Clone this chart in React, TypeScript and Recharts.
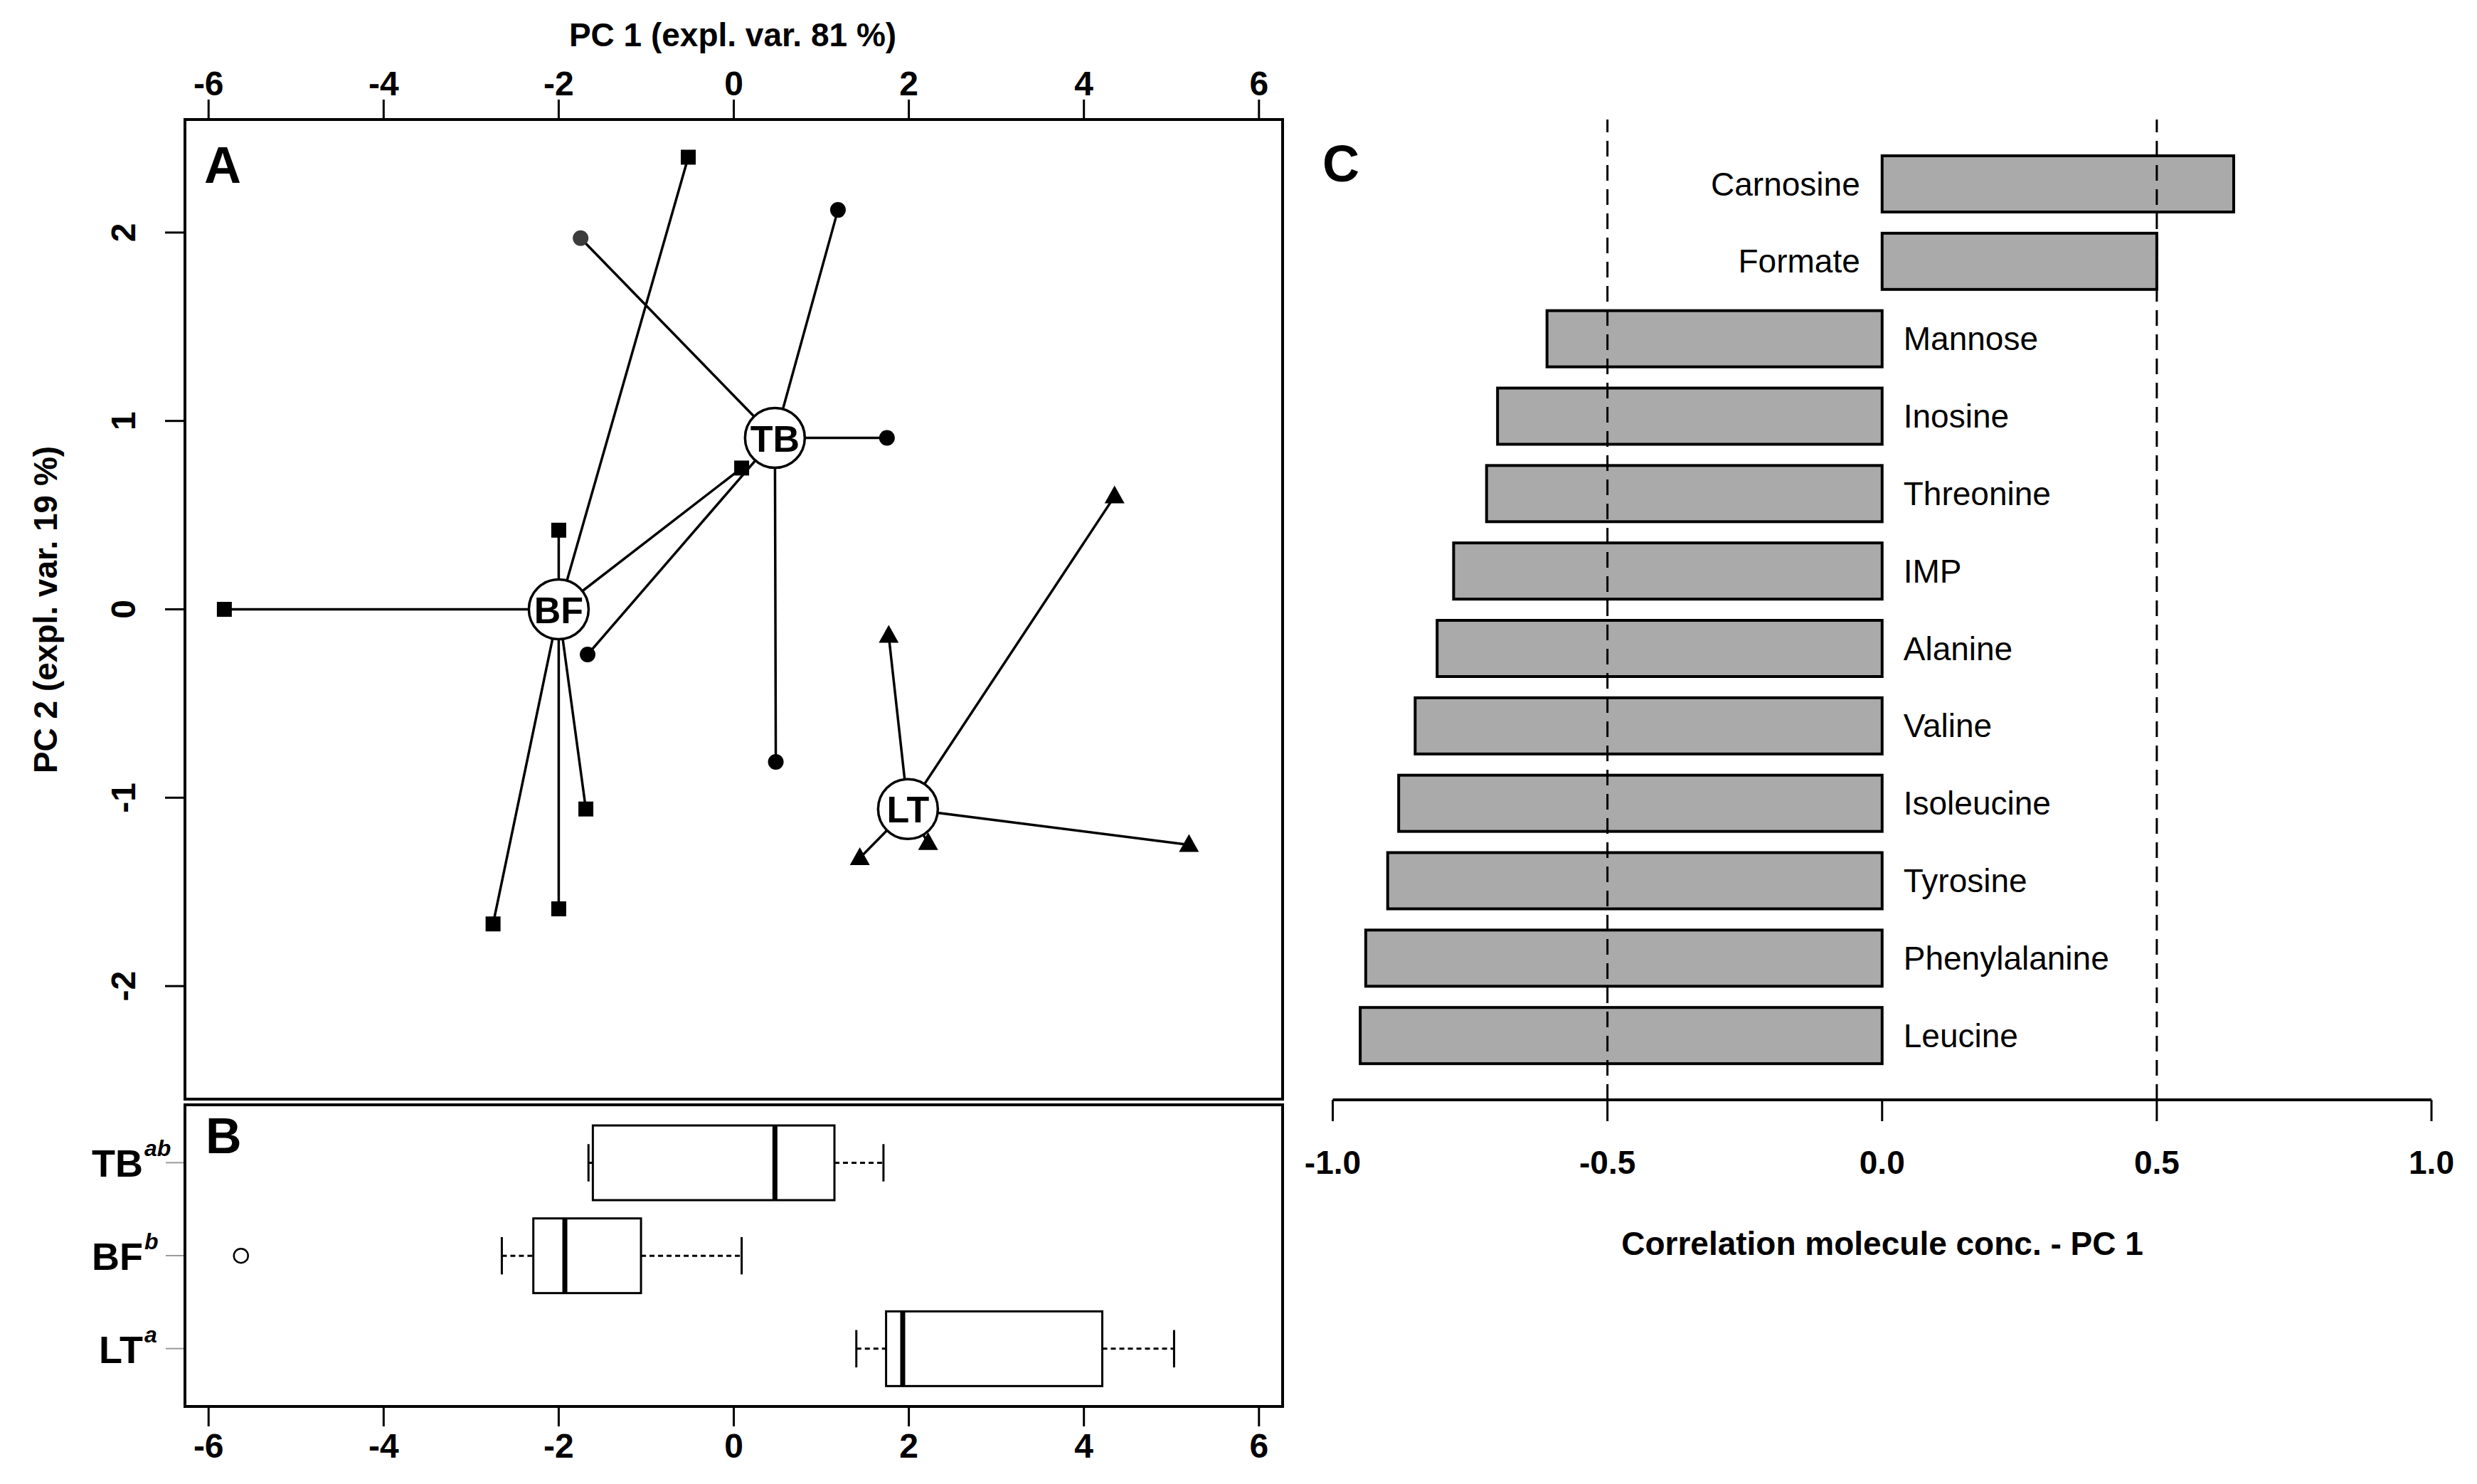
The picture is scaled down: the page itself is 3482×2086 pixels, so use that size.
import React from "react";
import {
  Bar,
  BarChart,
  ComposedChart,
  ReferenceLine,
  Scatter,
  ScatterChart,
  XAxis,
  YAxis,
} from "recharts";

// panel A: PCA scores, spider from group centre to every sample
const groupNames = ["TB", "BF", "LT"];
const centroidX = [0.47, -2.0, 1.99];
const centroidY = [0.91, 0.0, -1.06];

const tbX = [-1.75, 1.19, 1.75, 0.48, -1.67];
const tbY = [1.97, 2.12, 0.91, -0.81, -0.24];
const bfX = [-0.52, -2.0, -5.82, 0.09, -1.69, -2.0, -2.75];
const bfY = [2.4, 0.42, 0.0, 0.75, -1.06, -1.59, -1.67];
const ltX = [4.35, 1.77, 5.2, 2.22, 1.44];
const ltY = [0.6, -0.14, -1.25, -1.24, -1.32];

const pcTicksX = [-6, -4, -2, 0, 2, 4, 6];
const pcTicksY = [-2, -1, 0, 1, 2];

// panel B: boxplots of PC 1 scores
const boxGroups = ["TB", "BF", "LT"];
const boxLetters = ["ab", "b", "a"];
const boxMin = [-1.66, -2.65, 1.4];
const boxQ1 = [-1.61, -2.29, 1.74];
const boxMedian = [0.47, -1.93, 1.93];
const boxQ3 = [1.15, -1.06, 4.21];
const boxMax = [1.71, 0.09, 5.03];
const boxOutliers: number[][] = [[], [-5.63], []];

// panel C: correlation of each molecule with PC 1
const molecules = [
  "Carnosine",
  "Formate",
  "Mannose",
  "Inosine",
  "Threonine",
  "IMP",
  "Alanine",
  "Valine",
  "Isoleucine",
  "Tyrosine",
  "Phenylalanine",
  "Leucine",
];
const correlations = [0.64, 0.5, -0.61, -0.7, -0.72, -0.78, -0.81, -0.85, -0.88, -0.9, -0.94, -0.95];
const corrTicks = [-1, -0.5, 0, 0.5, 1];
const corrCutoffs = [-0.5, 0.5];

const FONT = "'Liberation Sans', Arial, Helvetica, sans-serif";

const toPoints = (xs: number[], ys: number[]) => xs.map((x, i) => ({ x, y: ys[i] }));
const groupPoints = [toPoints(tbX, tbY), toPoints(bfX, bfY), toPoints(ltX, ltY)];
const centroids = groupNames.map((name, i) => ({ name, x: centroidX[i], y: centroidY[i] }));
const spokes = groupPoints.map((pts, g) => pts.flatMap((p) => [centroids[g], p]));

const boxRows = boxGroups.map((name, i) => ({
  name,
  range: [Math.min(boxMin[i], ...boxOutliers[i]), boxMax[i]],
  min: boxMin[i],
  q1: boxQ1[i],
  median: boxMedian[i],
  q3: boxQ3[i],
  max: boxMax[i],
  outliers: boxOutliers[i],
}));

const corrRows = molecules.map((name, i) => ({ name, value: correlations[i] }));

const noShape = () => <g />;

const squareShape = (p: any) => (
  <rect x={p.cx - 10.5} y={p.cy - 10.5} width={21} height={21} fill="#000" />
);

const dotShape = (p: any) => {
  const first = p.payload && p.payload.x === tbX[0] && p.payload.y === tbY[0];
  return <circle cx={p.cx} cy={p.cy} r={11} fill={first ? "#3c3c3c" : "#000"} />;
};

const triangleShape = (p: any) => (
  <path
    d={`M${p.cx},${p.cy - 15} L${p.cx + 14},${p.cy + 10} L${p.cx - 14},${p.cy + 10} Z`}
    fill="#000"
  />
);

const centroidShape = (p: any) => (
  <g>
    <circle cx={p.cx} cy={p.cy} r={42} fill="#fff" stroke="#000" strokeWidth={3.5} />
    <text
      x={p.cx}
      y={p.cy + 19}
      textAnchor="middle"
      fontSize={52}
      fontWeight="bold"
      fontFamily={FONT}
      fill="#000"
    >
      {p.payload.name}
    </text>
  </g>
);

const markerShapes = [dotShape, squareShape, triangleShape];

const topTick = (p: any) => (
  <text x={p.x} y={134} textAnchor="middle" fontSize={48} fontWeight="bold" fontFamily={FONT} fill="#000">
    {p.payload.value}
  </text>
);

const bottomTick = (p: any) => (
  <text x={p.x} y={509} textAnchor="middle" fontSize={48} fontWeight="bold" fontFamily={FONT} fill="#000">
    {p.payload.value}
  </text>
);

const leftTick = (p: any) => (
  <text
    x={190}
    y={p.y}
    transform={`rotate(-90 190 ${p.y})`}
    textAnchor="middle"
    fontSize={48}
    fontWeight="bold"
    fontFamily={FONT}
    fill="#000"
  >
    {p.payload.value}
  </text>
);

const groupTick = (p: any) => {
  const idx = boxGroups.indexOf(p.payload.value);
  return (
    <g>
      <text x={201} y={p.y + 20} textAnchor="end" fontSize={54} fontWeight="bold" fontFamily={FONT} fill="#000">
        {p.payload.value}
      </text>
      <text
        x={203}
        y={p.y - 9}
        textAnchor="start"
        fontSize={32}
        fontWeight="bold"
        fontStyle="italic"
        fontFamily={FONT}
        fill="#000"
      >
        {boxLetters[idx]}
      </text>
    </g>
  );
};

const corrTick = (p: any) => (
  <text x={p.x} y={1650} textAnchor="middle" fontSize={46} fontWeight="bold" fontFamily={FONT} fill="#000">
    {Number(p.payload.value).toFixed(1)}
  </text>
);

function BoxShape(p: any) {
  const row = p.payload;
  const [lo, hi] = row.range;
  const px = (v: number) => p.x + ((v - lo) / (hi - lo)) * p.width;
  const top = p.y;
  const bottom = p.y + p.height;
  const cy = p.y + p.height / 2;
  const cap = p.height / 4;
  return (
    <g>
      <line x1={px(row.min)} x2={px(row.q1)} y1={cy} y2={cy} stroke="#000" strokeWidth={3} strokeDasharray="7 5" />
      <line x1={px(row.q3)} x2={px(row.max)} y1={cy} y2={cy} stroke="#000" strokeWidth={3} strokeDasharray="7 5" />
      <line x1={px(row.min)} x2={px(row.min)} y1={cy - cap} y2={cy + cap} stroke="#000" strokeWidth={3} />
      <line x1={px(row.max)} x2={px(row.max)} y1={cy - cap} y2={cy + cap} stroke="#000" strokeWidth={3} />
      <rect
        x={px(row.q1)}
        y={top}
        width={px(row.q3) - px(row.q1)}
        height={p.height}
        fill="#fff"
        stroke="#000"
        strokeWidth={3}
      />
      <line x1={px(row.median)} x2={px(row.median)} y1={top} y2={bottom} stroke="#000" strokeWidth={7} />
      {row.outliers.map((o: number) => (
        <circle key={o} cx={px(o)} cy={cy} r={10} fill="none" stroke="#000" strokeWidth={2.5} />
      ))}
    </g>
  );
}

function CorrBar(p: any) {
  const left = Math.min(p.x, p.x + p.width);
  const right = Math.max(p.x, p.x + p.width);
  const positive = p.payload.value > 0;
  const zero = positive ? left : right;
  return (
    <g>
      <rect x={left} y={p.y} width={right - left} height={p.height} fill="#aaaaaa" stroke="#000" strokeWidth={4} />
      <text
        x={positive ? zero - 31 : zero + 30}
        y={p.y + p.height / 2 + 16}
        textAnchor={positive ? "end" : "start"}
        fontSize={46}
        fontFamily={FONT}
        fill="#000"
      >
        {p.payload.name}
      </text>
    </g>
  );
}

const titleStyle = { fontSize: 46, fontWeight: "bold" as const, fontFamily: FONT, fill: "#000" };

export default function App() {
  return (
    <div
      style={{
        position: "absolute",
        left: 0,
        top: 0,
        width: 3482,
        height: 2086,
        background: "#fff",
        fontFamily: FONT,
      }}
    >
      <div style={{ position: "absolute", left: 0, top: 0 }}>
        <ScatterChart width={1840} height={1548} margin={{ top: 100, right: 37, bottom: 3, left: 160 }}>
          <XAxis
            type="number"
            dataKey="x"
            orientation="top"
            height={68}
            domain={[-6.27, 6.27]}
            allowDataOverflow
            ticks={pcTicksX}
            tickSize={28}
            axisLine={false}
            tickLine={{ stroke: "#000", strokeWidth: 3 }}
            tick={topTick}
            label={() => (
              <text x={1030} y={65} textAnchor="middle" {...titleStyle}>
                PC 1 (expl. var. 81 %)
              </text>
            )}
          />
          <YAxis
            type="number"
            dataKey="y"
            width={100}
            domain={[-2.6, 2.6]}
            allowDataOverflow
            ticks={pcTicksY}
            tickSize={28}
            axisLine={false}
            tickLine={{ stroke: "#000", strokeWidth: 3 }}
            tick={leftTick}
            label={() => (
              <text x={80} y={857} transform="rotate(-90 80 857)" textAnchor="middle" {...titleStyle}>
                PC 2 (expl. var. 19 %)
              </text>
            )}
          />
          {spokes.map((data, g) => (
            <Scatter
              key={`spoke-${groupNames[g]}`}
              data={data}
              line={{ stroke: "#000", strokeWidth: 3.5 }}
              lineType="joint"
              shape={noShape}
              isAnimationActive={false}
            />
          ))}
          {groupPoints.map((data, g) => (
            <Scatter
              key={`pts-${groupNames[g]}`}
              data={data}
              shape={markerShapes[g]}
              isAnimationActive={false}
            />
          ))}
          <Scatter data={centroids} shape={centroidShape} isAnimationActive={false} />
        </ScatterChart>
      </div>

      <div style={{ position: "absolute", left: 0, top: 1540 }}>
        <ComposedChart
          layout="vertical"
          width={1840}
          height={546}
          data={boxRows}
          margin={{ top: 13, right: 37, bottom: 39, left: 160 }}
        >
          <XAxis
            type="number"
            height={70}
            domain={[-6.27, 6.27]}
            allowDataOverflow
            ticks={pcTicksX}
            tickSize={28}
            axisLine={false}
            tickLine={{ stroke: "#000", strokeWidth: 3 }}
            tick={bottomTick}
          />
          <YAxis
            type="category"
            dataKey="name"
            width={100}
            padding={{ top: 16, bottom: 16 }}
            tickSize={27}
            axisLine={false}
            tickLine={{ stroke: "#9a9a9a", strokeWidth: 2 }}
            tick={groupTick}
          />
          <Bar dataKey="range" barSize={105} shape={BoxShape} isAnimationActive={false} />
        </ComposedChart>
      </div>

      <div style={{ position: "absolute", left: 1820, top: 0 }}>
        <BarChart
          layout="vertical"
          width={1662}
          height={2086}
          data={corrRows}
          margin={{ top: 168, right: 64, bottom: 420, left: 53.5 }}
        >
          <XAxis
            type="number"
            height={120}
            domain={[-1, 1]}
            allowDataOverflow
            ticks={corrTicks}
            tickSize={30}
            axisLine={{ stroke: "#000", strokeWidth: 4 }}
            tickLine={{ stroke: "#000", strokeWidth: 3 }}
            tick={corrTick}
            label={() => (
              <text x={826} y={1764} textAnchor="middle" {...titleStyle}>
                Correlation molecule conc. - PC 1
              </text>
            )}
          />
          <YAxis type="category" dataKey="name" hide padding={{ top: 36, bottom: 36 }} />
          <Bar dataKey="value" barSize={79} shape={CorrBar} isAnimationActive={false} />
          {corrCutoffs.map((c) => (
            <ReferenceLine key={c} x={c} stroke="#000" strokeWidth={3} strokeDasharray="22 12" />
          ))}
        </BarChart>
      </div>

      <svg
        width={3482}
        height={2086}
        style={{ position: "absolute", left: 0, top: 0, pointerEvents: "none" }}
      >
        <rect x={260} y={168} width={1543} height={1377} fill="none" stroke="#000" strokeWidth={4} />
        <rect x={260} y={1553} width={1543} height={424} fill="none" stroke="#000" strokeWidth={4} />
        <text x={287} y={257} fontSize={72} fontWeight="bold" fontFamily={FONT} fill="#000">
          A
        </text>
        <text x={289} y={1621} fontSize={70} fontWeight="bold" fontFamily={FONT} fill="#000">
          B
        </text>
        <text x={1859} y={255} fontSize={72} fontWeight="bold" fontFamily={FONT} fill="#000">
          C
        </text>
      </svg>
    </div>
  );
}
